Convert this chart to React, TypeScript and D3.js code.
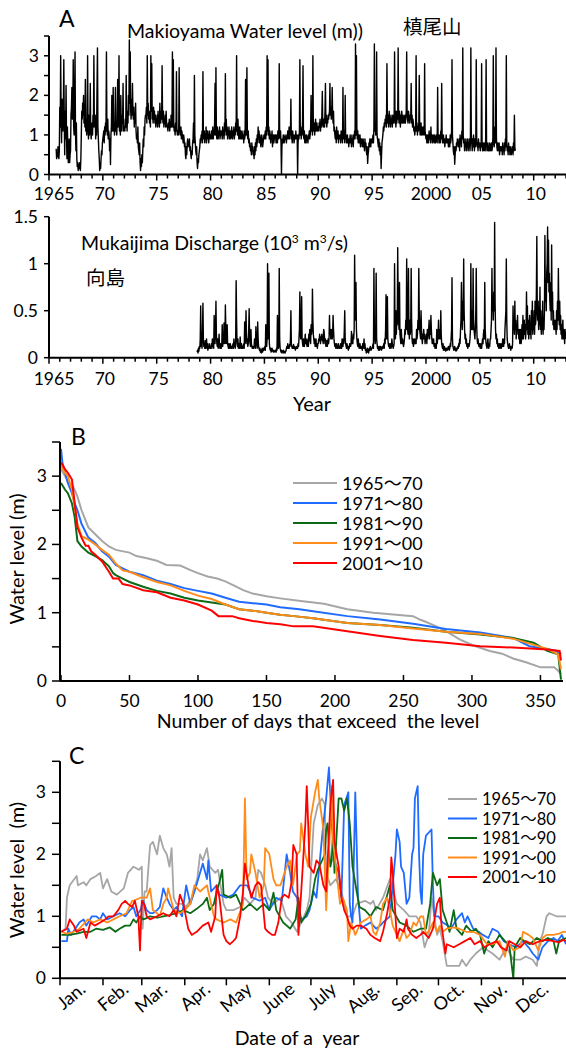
import React from 'react';
import * as d3 from 'd3';

const FONT = "Lato, 'Noto Sans CJK JP', 'Noto Sans', sans-serif";
const CJK = "'Noto Sans CJK JP', sans-serif";

// ---------- Panel A ----------
const yearTicks = [1965, 1970, 1975, 1980, 1985, 1990, 1995, 2000, 2005, 2010];
const yearTickLabels = ['1965', '70', '75', '80', '85', '90', '95', '2000', '05', '10'];
const levelTicksA = [0, 1, 2, 3];
const dischargeTicks = [0, 0.5, 1, 1.5];
const dischargeTickLabels = ['0', '0.5', '1', '1.5'];

// Makioyama water level (m), half-month samples; first row starts Sep 1965
const makioyamaStart = 1965 + 8 / 12;
const makioyamaRows: number[][] = [
  [0.65, 0.4, 0.55, 0.45, 0.7, 0.5, 0.4, 0.6],
  [1.7, 1.2, 3.0, 1.5, 0.8, 1.9, 1.3, 1.1, 1.7, 2.9, 1.4, 0.5, 1.6, 0.9, 2.25, 1.0, 0.4, 1.2, 0.7, 0.3, 0.5, 0.9, 0.3, 0.5],
  [0.6, 1.5, 1.7, 2.2, 1.4, 1.6, 2.9, 1.2, 1.0, 1.8, 3.1, 1.1, 0.6, 1.3, 0.4, 0.2, 0.3, 0.1, 0.25, 0.15, 0.3, 0.2, 0.1, 0.4],
  [1.0, 1.6, 1.4, 1.8, 1.5, 2.0, 1.3, 1.7, 1.2, 2.4, 1.1, 1.4, 1.0, 1.3, 3.0, 1.2, 0.9, 1.5, 1.0, 1.3, 2.3, 1.1, 0.9, 1.2],
  [1.3, 1.0, 1.5, 1.2, 3.0, 1.4, 1.2, 1.5, 0.9, 1.3, 1.0, 2.2, 3.2, 1.2, 0.9, 0.6, 0.4, 0.1, 0.3, 0.15, 0.4, 0.6, 0.5, 0.8],
  [0.9, 1.0, 1.1, 0.8, 1.2, 1.0, 1.3, 1.1, 3.1, 1.2, 1.0, 1.4, 0.9, 1.1, 1.0, 0.6, 0.9, 0.25, 1.0, 1.2, 2.0, 1.1, 1.3, 2.2],
  [1.1, 1.2, 1.0, 1.3, 2.2, 1.1, 1.2, 1.0, 1.4, 2.4, 1.2, 1.3, 3.0, 1.1, 1.4, 1.0, 2.0, 1.2, 1.1, 1.5, 1.3, 2.3, 1.1, 1.2],
  [1.2, 1.1, 1.4, 1.2, 2.5, 1.3, 1.1, 1.6, 1.3, 2.0, 1.5, 3.4, 1.8, 3.1, 1.6, 1.4, 1.9, 1.5, 2.3, 1.6, 1.4, 1.7, 1.2, 1.5],
  [1.3, 1.8, 1.1, 0.9, 1.0, 0.8, 1.2, 0.7, 0.6, 0.5, 0.8, 0.3, 0.1, 0.4, 0.2, 0.5, 0.3, 0.6, 0.9, 0.7, 1.2, 1.0, 1.4, 1.5],
  [1.5, 1.7, 1.3, 3.0, 1.5, 1.8, 1.4, 1.6, 1.3, 1.5, 1.2, 3.0, 1.6, 2.8, 1.4, 1.5, 1.3, 1.7, 1.4, 1.6, 1.3, 1.5, 1.2, 1.4],
  [1.3, 1.5, 1.2, 1.6, 1.3, 1.4, 1.2, 1.8, 1.5, 1.3, 1.6, 1.4, 2.75, 1.5, 1.3, 1.6, 1.2, 1.4, 1.3, 1.5, 1.2, 1.6, 1.3, 1.2],
  [1.2, 1.1, 1.3, 1.2, 1.4, 1.1, 1.3, 1.2, 1.5, 1.2, 1.3, 3.1, 1.2, 2.9, 1.3, 1.1, 1.2, 1.0, 1.3, 1.1, 2.6, 1.2, 1.0, 1.1],
  [1.1, 1.0, 2.7, 1.2, 1.1, 1.0, 1.2, 0.9, 1.1, 1.0, 0.9, 0.8, 1.0, 0.9, 0.7, 0.8, 0.5, 0.4, 0.7, 0.5, 0.8, 0.9, 0.7, 0.8],
  [0.8, 0.9, 0.6, 0.7, 0.5, 0.4, 0.6, 0.5, 0.8, 0.9, 1.3, 0.8, 2.5, 1.0, 0.8, 0.6, 0.5, 0.7, 0.3, 0.15, 0.4, 0.3, 0.5, 0.6],
  [0.7, 0.9, 0.8, 1.0, 0.9, 1.1, 0.8, 2.6, 1.0, 0.9, 1.1, 0.8, 1.0, 0.9, 1.2, 0.8, 1.0, 1.1, 0.9, 1.0, 0.8, 1.1, 0.9, 1.0],
  [0.9, 1.0, 1.1, 0.9, 1.0, 1.2, 0.9, 1.1, 1.0, 1.3, 2.3, 1.0, 2.7, 1.1, 0.9, 1.2, 1.0, 0.9, 1.1, 1.0, 1.2, 0.9, 1.0, 1.1],
  [1.0, 1.1, 0.9, 1.2, 1.0, 1.1, 0.9, 1.3, 1.0, 2.55, 1.1, 1.4, 1.0, 1.2, 0.9, 1.1, 1.0, 1.2, 0.9, 1.0, 1.1, 0.9, 1.0, 1.2],
  [1.0, 0.9, 1.1, 1.0, 1.2, 0.9, 1.1, 1.0, 1.3, 1.1, 3.0, 1.2, 1.0, 1.4, 1.1, 0.9, 1.0, 1.2, 0.9, 1.1, 1.0, 0.9, 1.1, 1.0],
  [0.9, 1.0, 0.8, 1.1, 0.9, 1.0, 2.4, 1.0, 1.1, 2.7, 1.0, 0.9, 1.1, 0.8, 0.9, 0.7, 0.8, 0.6, 0.7, 0.5, 0.8, 0.6, 0.7, 0.5],
  [0.6, 0.4, 0.7, 0.5, 0.8, 0.6, 0.9, 0.7, 1.0, 0.8, 1.2, 0.9, 1.1, 0.8, 1.0, 0.9, 0.7, 0.8, 1.0, 0.9, 0.7, 0.8, 0.9, 1.0],
  [0.9, 1.0, 1.1, 0.9, 1.2, 1.0, 3.0, 1.1, 2.9, 1.0, 1.2, 0.9, 1.1, 1.0, 0.8, 1.0, 0.9, 1.1, 0.7, 0.9, 1.0, 0.8, 0.9, 1.0],
  [0.9, 1.0, 0.8, 0.9, 1.0, 0.8, 1.1, 0.9, 1.0, 2.8, 1.0, 0.9, 1.1, 0.8, 0.0, 0.7, 0.9, 0.8, 1.0, 0.9, 0.8, 0.9, 1.0, 0.9],
  [0.9, 0.8, 1.0, 0.9, 1.1, 0.9, 1.0, 1.2, 0.9, 1.1, 1.0, 1.9, 0.9, 1.0, 0.8, 1.1, 0.9, 1.0, 0.8, 0.9, 1.0, 0.9, 1.1, 0.9],
  [0.9, 1.0, 0.0, 0.8, 1.0, 0.9, 1.1, 2.9, 1.0, 1.2, 0.9, 1.1, 1.0, 1.4, 2.75, 1.0, 0.9, 1.1, 0.8, 1.0, 0.9, 0.8, 1.0, 0.9],
  [0.9, 0.8, 1.0, 0.9, 1.1, 0.9, 1.0, 1.2, 2.0, 1.1, 1.3, 1.0, 3.0, 1.2, 1.1, 1.3, 1.0, 1.2, 1.4, 1.1, 1.2, 1.3, 1.1, 1.2],
  [1.2, 1.1, 1.3, 1.2, 1.4, 1.1, 1.3, 1.2, 1.5, 2.1, 1.3, 1.2, 1.4, 1.3, 1.2, 1.6, 2.3, 1.3, 1.5, 1.2, 1.4, 1.3, 1.5, 1.4],
  [1.5, 1.6, 2.3, 1.5, 1.7, 1.4, 1.6, 2.2, 1.5, 1.3, 1.6, 1.1, 1.2, 1.0, 0.9, 1.1, 0.8, 1.2, 1.0, 0.9, 1.1, 0.8, 1.0, 0.9],
  [0.9, 1.0, 0.8, 1.1, 0.9, 1.0, 0.8, 2.2, 1.0, 0.9, 1.1, 0.8, 2.0, 0.9, 1.0, 0.8, 0.9, 1.0, 0.8, 0.9, 0.7, 0.9, 0.8, 1.0],
  [0.8, 0.9, 0.7, 1.0, 0.8, 0.9, 0.7, 1.0, 0.9, 1.1, 0.9, 3.3, 1.0, 3.0, 1.2, 0.9, 1.1, 0.8, 1.0, 0.9, 0.8, 1.0, 0.7, 0.9],
  [0.8, 0.9, 0.7, 0.8, 0.9, 0.7, 0.8, 0.6, 0.9, 0.7, 0.8, 0.6, 0.5, 0.7, 0.28, 0.5, 0.6, 0.8, 0.7, 0.9, 0.8, 0.7, 0.9, 0.8],
  [0.8, 0.9, 1.0, 0.8, 1.2, 3.3, 1.1, 1.3, 1.0, 1.2, 3.1, 1.0, 0.9, 0.8, 0.7, 0.9, 0.6, 0.8, 0.5, 0.7, 0.15, 0.5, 0.8, 0.9],
  [1.0, 1.2, 1.1, 1.3, 1.2, 1.4, 1.3, 1.5, 1.2, 2.8, 1.4, 1.3, 1.5, 1.2, 1.6, 1.3, 1.4, 1.2, 1.5, 1.3, 1.4, 1.2, 1.5, 1.3],
  [1.4, 1.3, 3.1, 1.5, 1.4, 1.2, 1.6, 1.3, 1.5, 1.4, 3.2, 1.5, 1.3, 1.6, 1.4, 1.2, 1.5, 1.3, 1.6, 1.4, 1.3, 1.5, 1.4, 1.3],
  [1.4, 1.5, 1.3, 1.4, 1.6, 3.1, 1.5, 1.4, 1.3, 1.6, 1.5, 1.4, 1.3, 1.5, 1.4, 2.3, 1.3, 1.5, 1.2, 1.4, 1.3, 1.1, 1.2, 1.0],
  [1.1, 1.2, 3.0, 1.1, 1.3, 1.0, 1.2, 1.1, 1.3, 2.5, 1.2, 1.0, 1.1, 1.3, 1.0, 1.2, 1.1, 1.0, 1.2, 1.1, 1.0, 2.8, 1.1, 1.0],
  [0.9, 1.0, 0.8, 0.9, 1.0, 0.8, 0.9, 1.1, 0.9, 1.0, 0.8, 1.2, 0.9, 1.0, 0.8, 0.9, 1.0, 0.9, 0.8, 1.0, 0.9, 0.8, 0.9, 1.0],
  [0.9, 0.8, 2.2, 0.9, 1.0, 0.8, 0.9, 1.0, 0.8, 1.1, 0.9, 2.3, 1.0, 0.8, 0.9, 1.0, 0.8, 0.9, 0.7, 0.9, 0.8, 1.0, 0.8, 0.9],
  [0.8, 0.9, 0.7, 0.8, 0.9, 0.7, 1.0, 0.8, 0.9, 1.1, 2.9, 1.0, 0.8, 0.6, 0.5, 0.7, 0.26, 0.5, 0.7, 0.6, 0.8, 0.7, 0.9, 0.8],
  [0.8, 0.7, 0.9, 0.6, 1.0, 0.8, 0.9, 0.7, 1.1, 0.9, 3.2, 1.0, 0.8, 0.9, 0.6, 0.8, 0.7, 0.9, 0.6, 0.8, 0.7, 0.9, 0.6, 0.8],
  [0.7, 0.9, 0.6, 0.8, 3.2, 1.0, 0.8, 0.6, 0.9, 0.7, 1.0, 0.8, 0.6, 0.9, 0.7, 0.8, 2.9, 0.9, 0.7, 0.8, 0.6, 0.9, 0.7, 0.8],
  [0.7, 0.6, 0.8, 0.7, 2.8, 0.8, 0.6, 0.7, 0.8, 0.6, 0.7, 0.8, 0.6, 0.9, 2.9, 0.8, 0.6, 0.7, 0.8, 0.6, 0.7, 0.6, 0.8, 0.7],
  [0.6, 0.7, 0.8, 0.6, 0.7, 0.9, 3.0, 0.8, 0.7, 0.9, 1.2, 0.8, 3.2, 0.9, 0.7, 0.6, 0.8, 0.7, 0.6, 0.8, 0.5, 0.7, 0.6, 0.7],
  [0.6, 0.7, 0.5, 0.8, 0.6, 0.7, 0.5, 0.8, 0.6, 0.9, 0.7, 3.0, 0.8, 0.6, 0.7, 0.5, 0.8, 0.6, 0.7, 0.5, 0.6, 0.7, 0.5, 0.6],
  [0.6, 0.7, 0.5, 0.8, 0.6, 1.5, 0.7, 0.6],
];

// Mukaijima discharge (10^3 m3/s), half-month samples; first row starts Oct 1978
const dischargeStart = 1978.75;
const dischargeRows: number[][] = [
  [0.06, 0.08, 0.05, 0.1, 0.07, 0.12],
  [0.1, 0.2, 0.55, 0.12, 0.15, 0.1, 0.3, 0.58, 0.2, 0.12, 0.15, 0.1, 0.18, 0.1, 0.12, 0.2, 0.1, 0.15, 0.08, 0.12, 0.1, 0.15, 0.12, 0.1],
  [0.1, 0.12, 0.15, 0.1, 0.2, 0.12, 0.15, 0.1, 0.45, 0.2, 0.15, 0.3, 0.6, 0.25, 0.15, 0.12, 0.2, 0.1, 0.15, 0.25, 0.12, 0.1, 0.15, 0.1],
  [0.1, 0.15, 0.35, 0.12, 0.2, 0.15, 0.37, 0.2, 0.15, 0.56, 0.3, 0.15, 0.2, 0.35, 0.15, 0.12, 0.1, 0.15, 0.12, 0.1, 0.15, 0.12, 0.1, 0.12],
  [0.1, 0.12, 0.15, 0.1, 0.2, 0.12, 0.15, 0.1, 0.2, 0.82, 0.4, 0.15, 0.12, 0.2, 0.1, 0.15, 0.12, 0.1, 0.22, 0.12, 0.1, 0.15, 0.1, 0.12],
  [0.1, 0.12, 0.15, 0.1, 0.38, 0.15, 0.2, 0.5, 0.25, 0.15, 0.2, 0.12, 0.15, 0.3, 0.52, 0.2, 0.15, 0.12, 0.3, 0.15, 0.12, 0.1, 0.12, 0.1],
  [0.1, 0.12, 0.2, 0.15, 0.1, 0.33, 0.18, 0.15, 0.1, 0.38, 0.2, 0.12, 0.1, 0.08, 0.1, 0.06, 0.08, 0.05, 0.08, 0.1, 0.06, 0.08, 0.1, 0.08],
  [0.1, 0.12, 0.08, 0.35, 0.15, 0.12, 0.2, 1.0, 0.3, 0.2, 0.9, 0.15, 0.1, 0.08, 0.1, 0.06, 0.08, 0.1, 0.07, 0.08, 0.06, 0.08, 0.07, 0.06],
  [0.07, 0.08, 0.06, 0.1, 0.08, 0.45, 0.15, 0.1, 0.12, 0.95, 0.2, 0.1, 0.08, 0.06, 0.08, 0.05, 0.07, 0.06, 0.08, 0.05, 0.07, 0.06, 0.05, 0.07],
  [0.07, 0.1, 0.12, 0.1, 0.15, 0.1, 0.12, 0.1, 0.14, 0.12, 0.2, 0.5, 0.15, 0.12, 0.1, 0.12, 0.1, 0.14, 0.1, 0.12, 0.1, 0.08, 0.1, 0.12],
  [0.1, 0.12, 0.1, 0.15, 0.12, 0.2, 0.3, 0.7, 0.25, 0.2, 0.3, 0.65, 0.2, 0.15, 0.12, 0.2, 0.15, 0.12, 0.18, 0.25, 0.15, 0.2, 0.15, 0.12],
  [0.15, 0.2, 0.12, 0.25, 0.18, 0.3, 0.2, 0.15, 0.35, 0.25, 0.3, 0.73, 0.4, 0.25, 0.2, 0.15, 0.2, 0.12, 0.15, 0.2, 0.12, 0.15, 0.1, 0.15],
  [0.15, 0.2, 0.18, 0.25, 0.2, 0.15, 0.22, 0.2, 0.25, 0.18, 0.2, 0.15, 0.3, 0.28, 0.2, 0.15, 0.2, 0.12, 0.15, 0.18, 0.12, 0.15, 0.2, 0.15],
  [0.2, 0.45, 0.25, 0.3, 0.2, 0.25, 0.3, 0.2, 0.25, 0.45, 0.3, 0.2, 0.15, 0.12, 0.15, 0.1, 0.12, 0.15, 0.1, 0.12, 0.1, 0.15, 0.12, 0.1],
  [0.12, 0.1, 0.15, 0.12, 0.1, 0.2, 0.15, 0.12, 0.2, 0.15, 0.3, 0.5, 0.2, 0.15, 0.12, 0.1, 0.15, 0.12, 0.1, 0.08, 0.12, 0.1, 0.15, 0.12],
  [0.12, 0.15, 0.28, 0.15, 0.2, 0.15, 0.25, 0.2, 0.3, 1.09, 0.6, 0.4, 0.8, 0.3, 0.2, 0.15, 0.12, 0.2, 0.15, 0.1, 0.12, 0.15, 0.1, 0.12],
  [0.1, 0.12, 0.08, 0.15, 0.1, 0.12, 0.2, 0.1, 0.15, 0.08, 0.1, 0.05, 0.08, 0.06, 0.1, 0.08, 0.05, 0.07, 0.1, 0.08, 0.12, 0.1, 0.08, 0.1],
  [0.1, 0.12, 0.15, 0.1, 0.95, 0.3, 0.2, 0.15, 0.3, 0.9, 0.2, 0.15, 0.1, 0.12, 0.08, 0.1, 0.12, 0.08, 0.1, 0.12, 0.1, 0.08, 0.1, 0.12],
  [0.1, 0.12, 0.15, 0.1, 0.2, 0.15, 0.3, 0.67, 0.2, 0.4, 0.65, 0.2, 0.15, 0.12, 0.15, 0.1, 0.12, 0.15, 0.1, 0.12, 0.2, 0.15, 0.12, 0.1],
  [0.12, 0.15, 1.0, 0.3, 0.2, 0.5, 0.25, 0.4, 0.35, 1.17, 0.6, 0.4, 0.3, 0.8, 0.25, 0.2, 0.15, 0.3, 0.2, 0.15, 0.2, 0.15, 0.12, 0.15],
  [0.2, 0.3, 0.25, 0.4, 0.3, 1.05, 0.5, 0.3, 0.25, 0.95, 0.3, 0.2, 0.4, 0.25, 0.3, 0.95, 0.4, 0.2, 0.15, 0.2, 0.12, 0.15, 0.2, 0.15],
  [0.15, 0.2, 0.15, 0.3, 0.2, 0.25, 0.4, 0.3, 0.95, 0.5, 0.3, 0.25, 0.2, 0.5, 0.3, 0.2, 0.15, 0.25, 0.2, 0.3, 0.2, 0.25, 0.15, 0.2],
  [0.2, 0.25, 0.15, 0.3, 0.2, 0.25, 0.3, 0.4, 0.2, 0.3, 0.25, 0.45, 0.3, 0.2, 0.15, 0.2, 0.15, 0.2, 0.12, 0.15, 0.1, 0.15, 0.12, 0.1],
  [0.3, 0.15, 0.2, 0.25, 0.4, 0.2, 0.25, 0.3, 0.2, 0.5, 0.25, 0.15, 0.12, 0.1, 0.15, 0.08, 0.1, 0.12, 0.08, 0.1, 0.07, 0.1, 0.08, 0.1],
  [0.08, 0.1, 0.12, 0.1, 0.08, 0.1, 0.15, 0.12, 0.2, 0.3, 0.85, 0.2, 0.12, 0.1, 0.08, 0.1, 0.12, 0.08, 0.1, 0.07, 0.1, 0.08, 0.1, 0.12],
  [0.1, 0.15, 0.12, 0.2, 0.15, 0.3, 0.4, 0.8, 0.5, 0.3, 0.6, 0.4, 1.05, 0.5, 0.3, 0.2, 0.25, 0.15, 0.2, 0.12, 0.15, 0.1, 0.12, 0.15],
  [0.12, 0.15, 0.2, 0.3, 1.0, 0.4, 0.3, 0.5, 0.3, 0.95, 0.4, 0.3, 0.25, 0.2, 0.3, 0.5, 0.95, 0.35, 0.2, 0.15, 0.2, 0.15, 0.12, 0.15],
  [0.12, 0.1, 0.15, 0.12, 0.1, 0.15, 0.2, 0.15, 0.25, 0.3, 0.2, 0.8, 0.3, 0.2, 0.15, 0.12, 0.1, 0.15, 0.2, 0.12, 0.1, 0.15, 0.12, 0.2],
  [0.2, 0.3, 0.4, 0.95, 0.5, 0.6, 0.4, 0.7, 0.5, 1.44, 0.6, 0.3, 0.2, 0.25, 0.15, 0.2, 0.12, 0.15, 0.1, 0.12, 0.15, 0.1, 0.12, 0.15],
  [0.1, 0.15, 0.12, 0.2, 0.15, 0.12, 0.2, 0.15, 0.3, 0.4, 0.5, 1.05, 0.4, 0.2, 0.15, 0.12, 0.1, 0.12, 0.15, 0.1, 0.12, 0.08, 0.12, 0.1],
  [0.1, 0.15, 0.55, 0.3, 0.4, 0.25, 0.6, 0.3, 0.4, 0.2, 0.35, 0.3, 0.45, 0.25, 0.3, 0.2, 0.3, 0.15, 0.2, 0.3, 0.15, 0.2, 0.35, 0.2],
  [0.45, 0.2, 0.3, 0.4, 0.25, 0.35, 0.2, 0.3, 0.7, 0.3, 0.55, 0.25, 0.4, 0.2, 0.3, 0.45, 0.25, 0.35, 0.2, 0.5, 0.3, 0.6, 0.25, 0.4],
  [0.3, 0.5, 0.25, 0.6, 0.35, 0.4, 0.7, 1.29, 0.5, 0.4, 0.6, 0.3, 0.45, 0.35, 0.75, 0.3, 0.5, 0.25, 0.4, 0.3, 0.6, 0.25, 0.4, 0.3],
  [0.5, 1.3, 0.6, 0.8, 0.5, 0.9, 1.0, 1.39, 0.8, 1.25, 0.7, 0.9, 0.6, 0.5, 0.8, 0.4, 1.2, 0.5, 0.7, 0.35, 0.5, 0.3, 0.4, 0.35],
  [0.3, 0.4, 0.25, 0.5, 0.3, 0.6, 0.4, 0.95, 0.5, 0.35, 0.6, 0.3, 0.45, 0.25, 0.35, 0.2, 0.3, 0.4, 0.2, 0.3, 0.25, 0.15, 0.3, 0.2],
];

// ---------- Panels B & C shared ----------
const periodLabels = ['1965～70', '1971～80', '1981～90', '1991～00', '2001～10'];
const periodColors = ['#a6a6a6', '#1f6bff', '#0b6a16', '#ff8c1a', '#ff0000'];
const levelTicksBC = [0, 1, 2, 3];

// ---------- Panel B: duration curves [day, level] ----------
const daysTicks = [0, 50, 100, 150, 200, 250, 300, 350];
const duration1965: [number, number][] = [[0,3.1],[3,3.0],[5,2.92],[8,2.88],[10,2.8],[12,2.7],[15,2.5],[18,2.35],[20,2.25],[25,2.15],[30,2.05],[35,1.97],[40,1.92],[50,1.88],[55,1.83],[62,1.8],[70,1.76],[77,1.7],[87,1.69],[95,1.62],[100,1.58],[107,1.53],[114,1.5],[120,1.46],[126,1.4],[133,1.33],[140,1.28],[150,1.24],[160,1.21],[175,1.17],[192,1.13],[209,1.05],[228,1.0],[257,0.95],[262,0.9],[267,0.86],[274,0.8],[281,0.73],[291,0.61],[301,0.52],[313,0.44],[322,0.4],[330,0.33],[340,0.27],[350,0.2],[360,0.2],[363,0.15],[365,0.1]];
const duration1971: [number, number][] = [[0,3.4],[1,3.2],[3,3.05],[5,2.9],[8,2.75],[10,2.6],[12,2.5],[15,2.3],[20,2.1],[25,2.02],[30,1.9],[35,1.82],[40,1.7],[45,1.65],[50,1.6],[60,1.55],[70,1.47],[80,1.42],[90,1.36],[100,1.32],[110,1.28],[120,1.22],[130,1.16],[140,1.14],[150,1.12],[160,1.08],[174,1.05],[184,1.02],[209,0.95],[233,0.9],[257,0.84],[281,0.76],[306,0.71],[330,0.63],[342,0.51],[355,0.47],[362,0.44],[365,0.39]];
const duration1981: [number, number][] = [[0,2.9],[3,2.8],[5,2.75],[8,2.6],[10,2.4],[12,2.05],[15,1.97],[20,1.88],[25,1.83],[30,1.77],[35,1.68],[38,1.58],[40,1.55],[45,1.5],[50,1.45],[60,1.38],[70,1.32],[80,1.28],[90,1.22],[100,1.18],[110,1.15],[120,1.12],[130,1.05],[140,1.03],[150,1.0],[160,0.97],[170,0.95],[184,0.92],[209,0.85],[233,0.82],[257,0.78],[281,0.72],[306,0.68],[330,0.63],[345,0.56],[355,0.44],[363,0.39],[364,0.2],[365,0.02]];
const duration1991: [number, number][] = [[0,3.15],[3,3.05],[5,3.0],[8,2.8],[10,2.55],[12,2.3],[15,2.12],[20,2.07],[25,2.0],[30,1.92],[35,1.85],[40,1.72],[45,1.62],[50,1.6],[60,1.52],[70,1.45],[80,1.4],[90,1.32],[100,1.25],[110,1.2],[120,1.12],[130,1.05],[140,1.03],[150,1.0],[160,0.97],[170,0.95],[184,0.92],[209,0.85],[233,0.82],[257,0.77],[281,0.72],[306,0.69],[330,0.62],[355,0.47],[363,0.39],[365,0.17]];
const duration2001: [number, number][] = [[0,3.2],[3,3.1],[5,3.05],[8,2.95],[10,2.6],[12,2.25],[15,2.1],[18,1.98],[20,1.98],[22,1.9],[25,1.85],[30,1.75],[35,1.6],[38,1.5],[42,1.5],[45,1.42],[50,1.4],[60,1.33],[70,1.3],[80,1.22],[90,1.18],[100,1.12],[110,1.03],[115,0.95],[125,0.95],[130,0.92],[140,0.88],[150,0.85],[160,0.83],[170,0.8],[184,0.8],[209,0.73],[233,0.66],[257,0.6],[281,0.56],[306,0.51],[330,0.49],[355,0.46],[364,0.44],[365,0.3]];

// ---------- Panel C: mean level by day of year [day, level] ----------
const monthLabels = ['Jan.', 'Feb.', 'Mar.', 'Apr.', 'May', 'June', 'July', 'Aug.', 'Sep.', 'Oct.', 'Nov.', 'Dec.'];
const monthStartDays = [0, 31, 59, 90, 120, 151, 181, 212, 243, 273, 304, 334];
const daily1965: [number, number][] = [[1,0.75],[4,0.8],[5,1.3],[7,1.5],[12,1.65],[13,1.5],[17,1.55],[19,1.5],[22,1.6],[26,1.65],[29,1.7],[31,1.45],[34,1.6],[37,1.4],[41,1.35],[46,1.45],[49,1.7],[53,1.8],[57,1.75],[59,1.8],[59.6,0.8],[61,1.4],[62.5,1.4],[65,2.15],[67,2.2],[70,2.0],[72,2.3],[74.5,2.1],[77,2.0],[79,1.8],[80.5,2.1],[82,1.3],[84,1.2],[88,1.2],[91,1.15],[95,1.3],[99,1.6],[101,2.0],[103,1.9],[106,2.1],[108,1.8],[112,1.7],[114,1.75],[118,1.2],[120,1.1],[125,1.1],[130,1.15],[133,1.3],[137,1.2],[141,1.3],[143,1.75],[145,1.7],[148,1.5],[150,1.3],[154,1.2],[159,1.3],[163,1.0],[167,0.9],[171,0.75],[173,0.85],[178,1.1],[180,1.3],[183,2.5],[186,2.8],[189,2.9],[191,2.8],[192,1.7],[195,1.5],[199,1.6],[203,1.4],[207,1.0],[211,1.0],[214,1.2],[220,1.25],[224,1.2],[226,1.25],[228,1.1],[233,1.3],[238,1.6],[243,1.2],[248,1.1],[252,1.0],[257,1.0],[260,0.9],[263,0.5],[266,0.7],[268,1.3],[272,0.7],[274,0.8],[276,0.6],[279,0.2],[281,0.2],[286,0.2],[288,0.2],[290,0.3],[293,0.2],[296,0.3],[300,0.4],[305,0.5],[312,0.4],[317,0.3],[322,0.5],[327,0.3],[332,0.3],[336,0.35],[341,0.3],[344,0.2],[346,0.6],[348,0.7],[351,1.0],[353,1.05],[358,1.0],[362,1.0],[365,1.0]];
const daily1971: [number, number][] = [[1,0.6],[5,0.6],[6,0.8],[8,0.7],[11,0.8],[14,0.9],[17,0.95],[19,0.85],[23,1.0],[26,1.0],[29,0.95],[31,1.05],[34,0.95],[38.5,1.0],[43,1.05],[47,1.0],[50.5,1.1],[53,1.15],[55,1.0],[58,1.1],[60,1.25],[62.5,1.1],[65,1.05],[67,1.05],[70,1.1],[72,1.15],[74.5,1.45],[77,1.3],[79,1.2],[82,1.1],[84,1.15],[88,1.0],[91,1.5],[94,1.2],[97,1.4],[101,1.7],[103,1.85],[106,1.6],[107,1.9],[109,1.4],[113,1.5],[115,1.35],[120,1.3],[125,1.35],[130,1.5],[135,1.5],[139,1.3],[144,1.25],[148,1.3],[151,1.1],[156,1.3],[160,1.25],[163.5,2.0],[166,1.7],[168,1.4],[171,1.3],[173,1.0],[175,0.95],[178,1.0],[180,1.1],[183,1.4],[185,1.3],[187,1.8],[190,2.5],[192,2.9],[194,3.4],[196,2.5],[198,1.9],[201,1.7],[203,1.3],[205,2.8],[208,3.0],[209,1.2],[210,1.0],[211,0.9],[213,3.0],[215,1.3],[217,0.8],[220,0.85],[224,0.9],[228,0.8],[231,0.85],[233,0.9],[238,1.0],[240,1.5],[242,2.0],[243,2.4],[245,2.2],[246,1.8],[248,1.7],[250,1.2],[252,1.3],[254,2.0],[255,2.1],[256,2.9],[258,3.1],[259,2.0],[260,1.4],[261,1.2],[262,2.0],[264,2.3],[268,2.4],[269,1.5],[270,1.0],[273,1.0],[276,0.9],[280,0.85],[282,0.8],[286,0.95],[290,1.05],[292,0.9],[294,1.0],[298,0.8],[302,0.75],[305,0.7],[309,0.65],[312,0.8],[316,0.75],[320,0.6],[324,0.55],[329,0.5],[334,0.6],[338,0.5],[341,0.4],[345,0.3],[348,0.5],[352,0.6],[356,0.65],[359,0.6],[362,0.7],[365,0.55]];
const daily1981: [number, number][] = [[1,0.7],[7,0.7],[12,0.72],[17,0.75],[22,0.75],[26,0.8],[31,0.78],[36,0.82],[40,0.75],[43,0.8],[47,0.85],[50.5,0.85],[53,0.95],[55,0.9],[58,1.0],[60,0.95],[62.5,0.97],[65,1.0],[70,0.98],[74.5,1.0],[79,1.02],[84,1.05],[89,1.1],[94,1.05],[98.6,1.12],[103,1.2],[106,1.3],[108,1.1],[111,1.2],[113,1.4],[115,1.55],[117,1.75],[118,1.35],[123,1.3],[127,1.35],[132,1.1],[137,1.2],[142,1.1],[147,1.2],[151,1.1],[154,1.38],[156,1.1],[161,0.9],[166,0.8],[170,0.95],[172,1.3],[174,0.9],[177,1.0],[179,1.1],[181,1.2],[184,1.6],[186,1.75],[189,1.9],[191,2.0],[192,2.4],[193,2.5],[195,1.8],[196,1.9],[197,2.4],[198,1.7],[201,2.9],[203,2.9],[205,2.7],[207,2.9],[209,2.5],[211,1.8],[214,1.4],[216,1.15],[220,1.1],[224,1.0],[228,1.15],[233,1.1],[238,1.5],[240,1.1],[245,0.9],[250,0.85],[255,0.75],[260,0.8],[264,0.8],[267,1.2],[269,1.7],[272,1.5],[274,1.6],[276,1.1],[279,0.9],[281,0.75],[284,1.1],[286,0.8],[290,0.7],[293,0.85],[297,0.75],[300,0.8],[303,0.7],[306,0.4],[309,0.6],[312,0.5],[317,0.7],[321,0.6],[324,0.55],[327,0.0],[328,0.5],[332,0.65],[335,0.6],[339,0.55],[344,0.65],[348,0.6],[352,0.65],[356,0.6],[358,0.4],[360,0.6],[365,0.65]];
const daily1991: [number, number][] = [[1,0.75],[5,0.72],[10,0.75],[14,0.8],[18,0.9],[20,0.95],[24,0.9],[29,0.95],[34,0.9],[38.5,0.95],[43,1.0],[48,1.05],[52,1.25],[53,1.25],[58,1.3],[62.5,1.3],[65,1.45],[67,1.1],[70,1.05],[72,1.0],[74.5,1.2],[77,1.3],[78,1.45],[82,1.1],[86.5,1.05],[90,1.1],[94,1.2],[97,1.5],[101,1.4],[106,1.5],[108,1.3],[111,1.0],[113,0.95],[118,0.9],[123,0.95],[127,0.9],[132,1.2],[133.4,2.9],[134.6,1.6],[137,1.7],[138,2.0],[141,1.7],[144,1.3],[147,1.5],[148,2.1],[151,2.0],[154,1.6],[156,1.5],[159,1.5],[163.5,1.8],[166,1.9],[168,1.5],[171,2.0],[173,2.05],[174,2.5],[177,2.0],[179,1.8],[181,2.6],[184,3.0],[186,3.2],[187,2.9],[190,2.4],[192,1.1],[195,2.5],[196,3.1],[197,2.2],[199,1.8],[202,1.2],[204,1.3],[207,1.1],[208,0.6],[210,0.9],[213,0.7],[215,0.8],[217,0.9],[221,0.95],[224,1.0],[226,0.75],[228,0.7],[231,0.9],[233,1.2],[236,1.3],[238,1.1],[240,0.85],[243,0.7],[245,0.6],[248,0.8],[250,0.65],[252,0.7],[255,0.9],[257,0.85],[260,1.0],[262,1.0],[264,0.7],[267,0.8],[269,0.9],[272,0.75],[274,0.85],[276,0.75],[279,0.8],[284,0.82],[288,0.8],[293,0.75],[298,0.75],[303,0.7],[308,0.55],[312,0.55],[317,0.6],[321,0.35],[323,0.6],[327,0.45],[332,0.5],[334,0.75],[338,0.7],[341,0.65],[345,0.45],[348,0.65],[351,0.7],[356,0.7],[360,0.72],[363,0.75],[365,0.75]];
const daily2001: [number, number][] = [[1,0.75],[5,0.8],[7,0.95],[10,0.85],[12,0.75],[17,0.8],[19,0.65],[22,0.9],[25,0.85],[29,0.9],[32.5,0.95],[35,1.0],[38.5,1.0],[42,1.1],[44.5,1.2],[47,1.25],[49,1.2],[52,1.15],[54,1.25],[56.5,1.0],[57.7,0.45],[59,1.25],[60.6,1.2],[62.5,1.0],[65,0.95],[70,1.0],[74.5,1.05],[79,1.0],[82,1.1],[84,1.0],[86.5,1.35],[89,1.2],[92.5,0.8],[95,0.7],[98.6,0.75],[103,0.85],[107,0.9],[109,0.75],[112,1.0],[113,1.5],[115,1.3],[118,0.7],[120,0.6],[122.6,0.55],[125,0.6],[127,0.65],[130,1.0],[132,1.4],[133.4,1.85],[136,1.5],[138,1.3],[141,1.5],[143,1.55],[145,1.5],[148,0.8],[150,0.75],[153,0.7],[155,0.7],[157.5,0.9],[160,1.3],[162,1.35],[165,1.3],[167,1.55],[168.3,2.15],[170.7,2.0],[172,0.7],[174,1.4],[177,2.5],[178,3.1],[179,2.5],[180,1.8],[183,1.7],[185,1.9],[187,1.85],[190,1.5],[192,1.4],[195,2.8],[197,3.2],[198,2.2],[201,1.8],[203,1.3],[205,1.1],[207,1.0],[209,0.85],[211,0.8],[214,0.85],[217,0.85],[221,0.8],[224,0.7],[227,0.65],[231,0.6],[233,0.75],[236,1.05],[238,1.3],[239,1.95],[240,1.7],[243,0.65],[245,0.8],[248,0.75],[250,0.95],[251,0.8],[254,0.7],[257,0.65],[260,0.7],[262,0.75],[266,0.65],[269,0.8],[272,1.2],[274,1.3],[275,0.9],[278,0.4],[279,0.55],[284,0.5],[288,0.55],[292,0.6],[296,0.65],[299,0.55],[303,0.6],[306,0.5],[310,0.55],[315,0.6],[318,0.5],[322,0.45],[324,0.6],[328,0.55],[332,0.5],[336,0.6],[341,0.55],[346,0.6],[351,0.62],[356,0.6],[360,0.58],[363,0.62],[365,0.6]];

const durationSeries = [duration1965, duration1971, duration1981, duration1991, duration2001];
const dailySeries = [daily1965, daily1971, daily1981, daily1991, daily2001];

function rowsToPoints(rows: number[][], start: number): [number, number][] {
  const pts: [number, number][] = [];
  const firstYear = Math.floor(start);
  rows.forEach((row, r) => {
    const base = r === 0 ? start : firstYear + r;
    row.forEach((v, i) => pts.push([base + i / 24, v]));
  });
  return pts;
}

export default function App() {
  const xYear = d3.scaleLinear().domain([1965, 2013]).range([49, 566]);
  const yA1 = d3.scaleLinear().domain([0, 3.5]).range([174.5, 36]);
  const yA2 = d3.scaleLinear().domain([0, 1.5]).range([357.7, 216.7]);
  const xB = d3.scaleLinear().domain([0, 365]).range([61, 561]);
  const yB = d3.scaleLinear().domain([0, 3.5]).range([681, 442]);
  const xC = d3.scaleLinear().domain([0, 365]).range([60, 566]);
  const yC = d3.scaleLinear().domain([0, 3.5]).range([978.3, 761.3]);

  const makPts = rowsToPoints(makioyamaRows, makioyamaStart);
  const disPts = rowsToPoints(dischargeRows, dischargeStart);

  const lineA1 = d3.line<[number, number]>().x(d => xYear(d[0])).y(d => yA1(d[1]));
  const lineA2 = d3.line<[number, number]>().x(d => xYear(d[0])).y(d => yA2(d[1]));
  const lineB = d3.line<[number, number]>().x(d => xB(d[0])).y(d => yB(d[1]));
  const lineC = d3.line<[number, number]>().x(d => xC(d[0])).y(d => yC(d[1]));

  const minorYears = d3.range(1965, 2014);
  const halfSteps = d3.range(0, 3.51, 0.5);

  const txt = { fontFamily: FONT, fill: '#000' } as const;

  const yearAxis = (y0: number, labelY: number) => (
    <g>
      <line x1={49} x2={566} y1={y0} y2={y0} stroke="#000" strokeWidth={2} />
      {minorYears.map(yr => (
        <line key={'m' + yr} x1={xYear(yr)} x2={xYear(yr)} y1={y0} y2={y0 + (yr % 5 === 0 ? 6 : 4)} stroke="#000" strokeWidth={1.5} />
      ))}
      {yearTicks.map((yr, i) => (
        <text key={'l' + yr} x={xYear(yr) + (yearTickLabels[i].length === 4 ? 5 : 2)} y={labelY} textAnchor="middle" fontSize={17.5} {...txt}>
          {yearTickLabels[i]}
        </text>
      ))}
    </g>
  );

  return (
    <svg width={566} height={1050} style={{ position: 'absolute', left: 0, top: 0, display: 'block', background: '#fff' }}>
      {/* ===== Panel A top ===== */}
      <text x={59} y={27} fontSize={23} {...txt}>A</text>
      <text x={127} y={38} fontSize={19.5} {...txt}>Makioyama Water level (m))</text>
      <text x={403} y={34} fontSize={19.5} fontFamily={CJK} fill="#000">槙尾山</text>
      <path d={lineA1(makPts) || ''} fill="none" stroke="#000" strokeWidth={1.4} strokeLinejoin="round" />
      <line x1={49} x2={49} y1={yA1(3.5)} y2={yA1(0)} stroke="#000" strokeWidth={2} />
      {halfSteps.map(v => (
        <line key={'a1t' + v} x1={44} x2={49} y1={yA1(v)} y2={yA1(v)} stroke="#000" strokeWidth={1.5} />
      ))}
      {levelTicksA.map(v => (
        <text key={'a1l' + v} x={39} y={yA1(v) + 6} textAnchor="end" fontSize={17.5} {...txt}>{v}</text>
      ))}
      {yearAxis(yA1(0), 200)}

      {/* ===== Panel A bottom ===== */}
      <text x={81} y={250} fontSize={19.5} {...txt}>
        Mukaijima Discharge (10<tspan dy={-7} fontSize={12}>3</tspan><tspan dy={7}> m</tspan><tspan dy={-7} fontSize={12}>3</tspan><tspan dy={7}>/s)</tspan>
      </text>
      <text x={86} y={285} fontSize={19.5} fontFamily={CJK} fill="#000">向島</text>
      <path d={lineA2(disPts) || ''} fill="none" stroke="#000" strokeWidth={1.4} strokeLinejoin="round" />
      <line x1={49} x2={49} y1={yA2(1.5)} y2={yA2(0)} stroke="#000" strokeWidth={2} />
      {dischargeTicks.map((v, i) => (
        <g key={'a2' + v}>
          <line x1={44} x2={49} y1={yA2(v)} y2={yA2(v)} stroke="#000" strokeWidth={1.5} />
          <text x={38} y={yA2(v) + 6} textAnchor="end" fontSize={17.5} {...txt}>{dischargeTickLabels[i]}</text>
        </g>
      ))}
      {yearAxis(yA2(0), 385)}
      <text x={312} y={411} textAnchor="middle" fontSize={20} {...txt}>Year</text>

      {/* ===== Panel B ===== */}
      <text x={71} y={445} fontSize={23} {...txt}>B</text>
      {durationSeries.map((s, i) => (
        <path key={'b' + i} d={lineB(s) || ''} fill="none" stroke={periodColors[i]} strokeWidth={2} />
      ))}
      <line x1={60} x2={60} y1={yB(3.5)} y2={yB(0)} stroke="#000" strokeWidth={2} />
      <line x1={60} x2={563} y1={yB(0)} y2={yB(0)} stroke="#000" strokeWidth={2} />
      {halfSteps.map(v => (
        <line key={'bt' + v} x1={52} x2={60} y1={yB(v)} y2={yB(v)} stroke="#000" strokeWidth={1.5} />
      ))}
      {levelTicksBC.map(v => (
        <text key={'bl' + v} x={47} y={yB(v) + 6} textAnchor="end" fontSize={17.5} {...txt}>{v}</text>
      ))}
      {daysTicks.map(d => (
        <g key={'bx' + d}>
          <line x1={xB(d)} x2={xB(d)} y1={yB(0)} y2={yB(0) - 6} stroke="#000" strokeWidth={1.5} />
          <text x={xB(d)} y={707} textAnchor="middle" fontSize={17.5} {...txt}>{d}</text>
        </g>
      ))}
      <text x={318} y={728} textAnchor="middle" fontSize={19.5} style={{ whiteSpace: 'pre' }} {...txt}>Number of days that exceed  the level</text>
      <text transform="translate(24,559) rotate(-90)" textAnchor="middle" fontSize={20} {...txt}>Water level (m)</text>
      {periodLabels.map((lab, i) => (
        <g key={'bleg' + i}>
          <line x1={293} x2={337} y1={483 + i * 20} y2={483 + i * 20} stroke={periodColors[i]} strokeWidth={2} />
          <text x={342} y={489.5 + i * 20} fontSize={18} {...txt}>{lab}</text>
        </g>
      ))}

      {/* ===== Panel C ===== */}
      <text x={69} y={764} fontSize={23} {...txt}>C</text>
      {dailySeries.map((s, i) => (
        <path key={'c' + i} d={lineC(s) || ''} fill="none" stroke={periodColors[i]} strokeWidth={1.8} strokeLinejoin="round" />
      ))}
      <line x1={60} x2={60} y1={yC(3.5)} y2={yC(0)} stroke="#000" strokeWidth={2} />
      <line x1={60} x2={566} y1={yC(0)} y2={yC(0)} stroke="#000" strokeWidth={2} />
      {halfSteps.map(v => (
        <line key={'ct' + v} x1={52} x2={60} y1={yC(v)} y2={yC(v)} stroke="#000" strokeWidth={1.5} />
      ))}
      {levelTicksBC.map(v => (
        <text key={'cl' + v} x={46} y={yC(v) + 6} textAnchor="end" fontSize={17.5} {...txt}>{v}</text>
      ))}
      {monthStartDays.map((d, i) => (
        <g key={'cm' + i}>
          <line x1={xC(d)} x2={xC(d)} y1={yC(0)} y2={yC(0) + 7} stroke="#000" strokeWidth={1.5} />
          <text transform={`translate(${xC(d + 15) + 6},${991}) rotate(-40)`} textAnchor="end" fontSize={18} {...txt}>{monthLabels[i]}</text>
        </g>
      ))}
      <text x={297} y={1045} textAnchor="middle" fontSize={19.5} style={{ whiteSpace: 'pre' }} {...txt}>Date of a  year</text>
      <text transform="translate(24,870) rotate(-90)" textAnchor="middle" fontSize={20} style={{ whiteSpace: 'pre' }} {...txt}>Water level  (m)</text>
      {periodLabels.map((lab, i) => (
        <g key={'cleg' + i}>
          <line x1={448} x2={477} y1={799 + i * 19.5} y2={799 + i * 19.5} stroke={periodColors[i]} strokeWidth={2} />
          <text x={482} y={805 + i * 19.5} fontSize={16.5} {...txt}>{lab}</text>
        </g>
      ))}
    </svg>
  );
}
